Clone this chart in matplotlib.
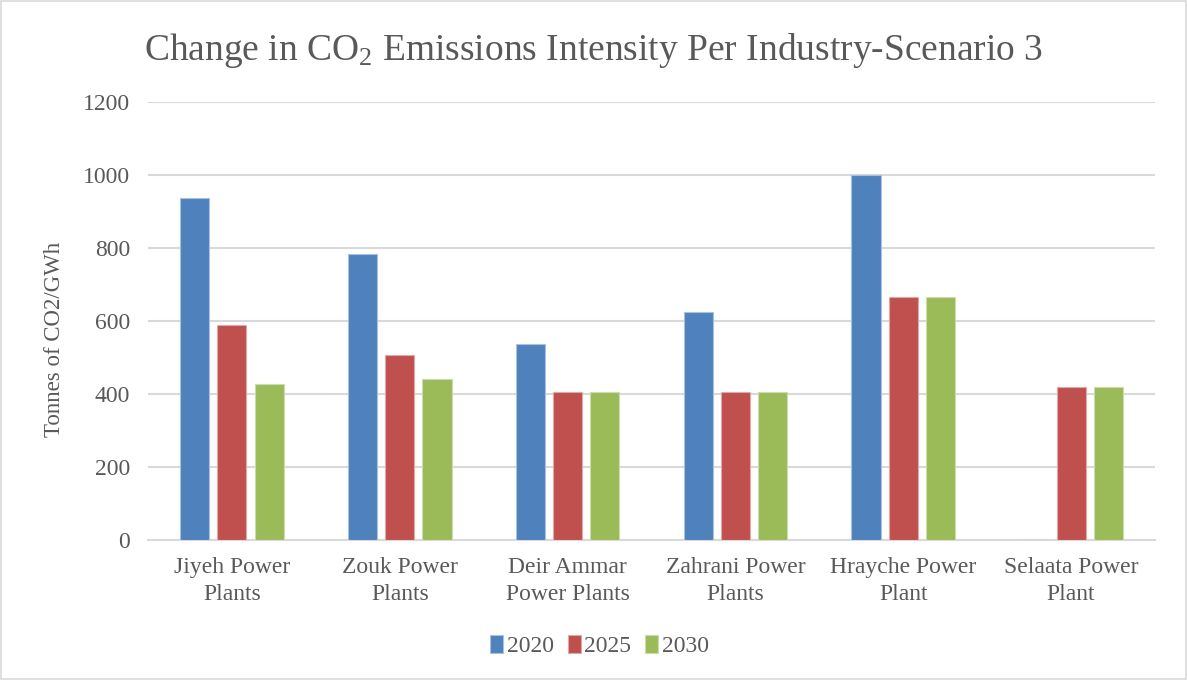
import numpy as np
import matplotlib.pyplot as plt
from matplotlib.patches import Rectangle

plt.rcParams['font.family'] = ['Liberation Serif', 'DejaVu Serif']
plt.rcParams['mathtext.fontset'] = 'custom'
plt.rcParams['mathtext.rm'] = 'Liberation Serif'
plt.rcParams['mathtext.it'] = 'Liberation Serif:italic'
plt.rcParams['mathtext.bf'] = 'Liberation Serif:bold'

# Data
plants = ["Jiyeh Power\nPlants", "Zouk Power\nPlants", "Deir Ammar\nPower Plants",
          "Zahrani Power\nPlants", "Hrayche Power\nPlant", "Selaata Power\nPlant"]
years = ["2020", "2025", "2030"]
y2020 = [938, 784, 536, 626, 1000, 0]
y2025 = [588, 508, 406, 406, 667, 418]
y2030 = [427, 440, 406, 406, 667, 418]

colors = ["#4F81BD", "#C0504D", "#9BBB59"]
edges = ["#a9c0df", "#e0a8a6", "#cddcac"]
text_color = "#595959"

fig = plt.figure(figsize=(11.87, 6.8), dpi=100)
ax = fig.add_axes([148 / 1187, 1 - 540 / 680, (1155 - 148) / 1187, (540 - 102) / 680])

x = np.arange(len(plants))
width = 0.173
step = 0.222
for i, (vals, label) in enumerate(zip([y2020, y2025, y2030], years)):
    ax.bar(x + (i - 1) * step, vals, width, color=colors[i], edgecolor=edges[i],
           linewidth=0.8, label=label, zorder=3)

ax.set_xlim(-0.5, len(plants) - 0.5)
ax.set_ylim(0, 1200)
ax.set_yticks(np.arange(0, 1201, 200))
ax.set_xticks(x)
ax.set_xticklabels(plants, fontsize=17, color=text_color, linespacing=1.4)
ax.tick_params(axis="y", labelsize=17, labelcolor=text_color, length=0, pad=13)
ax.tick_params(axis="x", length=0, pad=12)
ax.grid(axis="y", color="#d9d9d9", linewidth=1.5, zorder=0)
for side in ["top", "right", "left"]:
    ax.spines[side].set_visible(False)
ax.spines["bottom"].set_color("#d9d9d9")
ax.spines["bottom"].set_linewidth(1.5)

ax.set_ylabel("Tonnes of CO2/GWh", fontsize=16.5, color=text_color)
ax.yaxis.set_label_coords(-0.082, 0.457)

fig.text(0.5, 1 - 50 / 680, r"Change in CO$_2$ Emissions Intensity Per Industry-Scenario 3",
         ha="center", va="center", fontsize=27, color=text_color)

fig.legend(loc="center", bbox_to_anchor=(0.505, 1 - 646 / 680), ncol=3, frameon=False,
           fontsize=17, labelcolor=text_color, handlelength=0.55, handleheight=0.8,
           handletextpad=0.15, columnspacing=0.6)

# light frame around the chart
fig.patches.append(Rectangle((0.001, 0.001), 0.998, 0.998, transform=fig.transFigure,
                             fill=False, edgecolor="#d9d9d9", linewidth=1.2))

fig.savefig("out.png", dpi=100, facecolor="white")
